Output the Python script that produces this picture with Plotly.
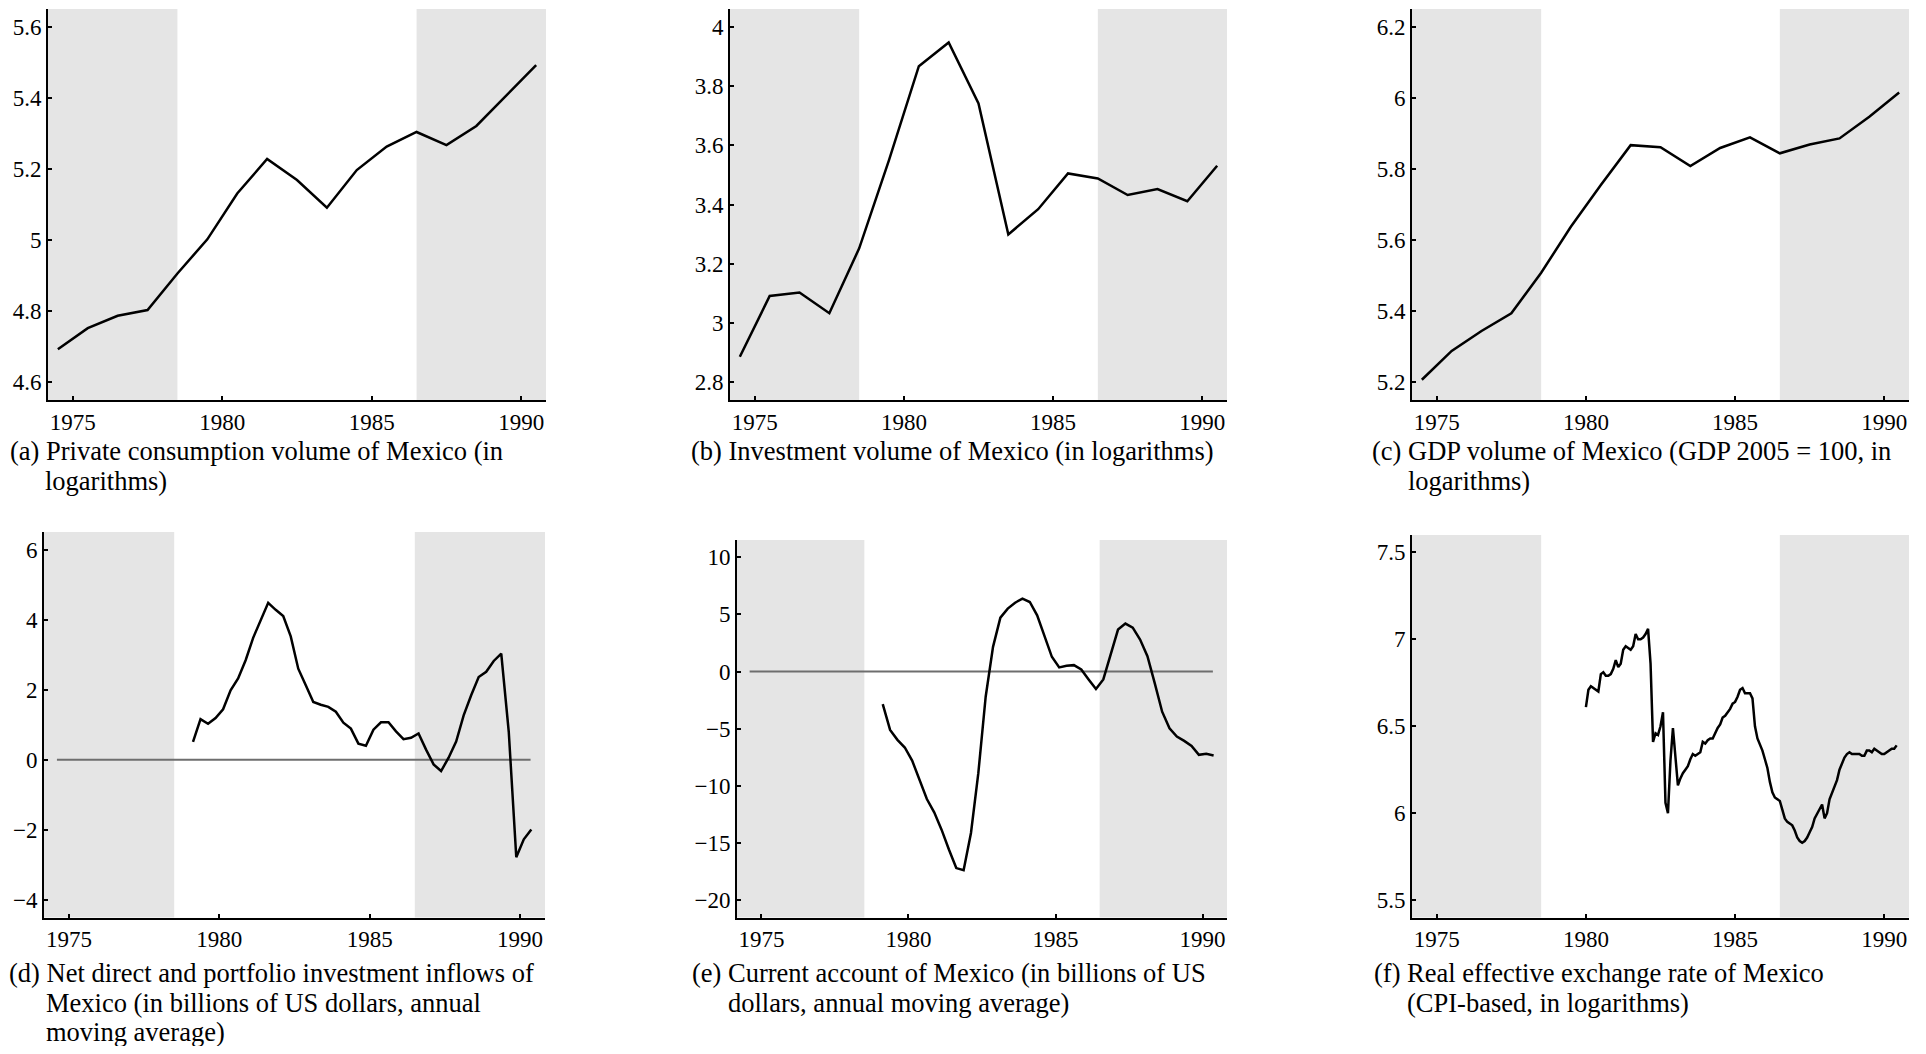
import plotly.graph_objects as go

# ---------------- data ----------------
annual_years = list(range(1974, 1991))            # plotted at mid-year
quarter_start, quarter_end = (1979, 1), (1990, 2)  # quarterly series
month_start, month_end = (1980, 1), (1990, 6)      # monthly series

consumption = [4.693, 4.752, 4.787, 4.803, 4.906, 5.002, 5.131, 5.228, 5.169,
               5.091, 5.197, 5.263, 5.304, 5.267, 5.321, 5.406, 5.492]
investment = [2.886, 3.091, 3.103, 3.033, 3.252, 3.550, 3.867, 3.947, 3.741,
              3.299, 3.384, 3.505, 3.488, 3.432, 3.452, 3.411, 3.531]
gdp = [5.207, 5.288, 5.344, 5.394, 5.508, 5.638, 5.755, 5.867, 5.861,
       5.808, 5.859, 5.889, 5.844, 5.869, 5.886, 5.947, 6.015]

inflows = [0.51, 1.16, 1.03, 1.19, 1.44, 1.98, 2.32, 2.84, 3.48, 3.98,
           4.48, 4.28, 4.10, 3.52, 2.60, 2.13, 1.65, 1.57, 1.51, 1.37,
           1.06, 0.89, 0.46, 0.40, 0.86, 1.07, 1.07, 0.81, 0.59, 0.63,
           0.75, 0.29, -0.13, -0.32, 0.06, 0.52, 1.27, 1.84, 2.36, 2.51,
           2.82, 3.03, 0.80, -2.78, -2.27, -1.99]
current_account = [-2.84, -5.10, -5.97, -6.64, -7.78, -9.40, -11.14, -12.31, -13.82, -15.56,
                   -17.18, -17.36, -14.11, -8.88, -2.20, 2.16, 4.71, 5.50, 6.02, 6.37,
                   6.08, 4.92, 3.17, 1.29, 0.36, 0.50, 0.56, 0.18, -0.69, -1.53,
                   -0.69, 1.58, 3.67, 4.19, 3.84, 2.80, 1.34, -1.04, -3.51, -4.96,
                   -5.68, -6.06, -6.50, -7.28, -7.19, -7.34]
reer = [6.61, 6.71, 6.73, 6.72, 6.71, 6.70, 6.80, 6.81, 6.79, 6.79, 6.80, 6.83,
        6.88, 6.84, 6.86, 6.94, 6.96, 6.95, 6.94, 6.96, 7.03, 7.00, 7.00, 7.01,
        7.03, 7.06, 6.86, 6.41, 6.46, 6.45, 6.50, 6.58, 6.06, 6.00, 6.30, 6.49,
        6.30, 6.16, 6.20, 6.23, 6.25, 6.27, 6.31, 6.34, 6.33, 6.34, 6.35, 6.41,
        6.40, 6.42, 6.43, 6.43, 6.46, 6.49, 6.51, 6.55, 6.56, 6.58, 6.60, 6.63,
        6.64, 6.67, 6.71, 6.72, 6.69, 6.69, 6.69, 6.66, 6.50, 6.43, 6.40, 6.36,
        6.31, 6.26, 6.18, 6.12, 6.09, 6.08, 6.07, 6.02, 5.97, 5.95, 5.94, 5.93,
        5.90, 5.86, 5.84, 5.83, 5.84, 5.86, 5.89, 5.92, 5.97, 6.00, 6.03, 6.05,
        5.97, 6.00, 6.08, 6.12, 6.15, 6.19, 6.25, 6.29, 6.32, 6.34, 6.35, 6.34,
        6.34, 6.34, 6.34, 6.33, 6.33, 6.36, 6.36, 6.35, 6.37, 6.36, 6.35, 6.34,
        6.34, 6.35, 6.36, 6.37, 6.37, 6.39]

zero_line_x = [1974.6, 1990.35]
zero_line_y = [0, 0]

shade_periods = [(1974.17, 1978.5), (1986.5, 1990.83)]
x_range = [1974.17, 1990.83]
x_ticks = [1975, 1980, 1985, 1990]

ticks_a = [4.6, 4.8, 5.0, 5.2, 5.4, 5.6]
labels_a = ["4.6", "4.8", "5", "5.2", "5.4", "5.6"]
ticks_b = [2.8, 3.0, 3.2, 3.4, 3.6, 3.8, 4.0]
labels_b = ["2.8", "3", "3.2", "3.4", "3.6", "3.8", "4"]
ticks_c = [5.2, 5.4, 5.6, 5.8, 6.0, 6.2]
labels_c = ["5.2", "5.4", "5.6", "5.8", "6", "6.2"]
ticks_d = [-4, -2, 0, 2, 4, 6]
labels_d = ["\u22124", "\u22122", "0", "2", "4", "6"]
ticks_e = [-20, -15, -10, -5, 0, 5, 10]
labels_e = ["\u221220", "\u221215", "\u221210", "\u22125", "0", "5", "10"]
ticks_f = [5.5, 6.0, 6.5, 7.0, 7.5]
labels_f = ["5.5", "6", "6.5", "7", "7.5"]

captions = {
    "a": ["(a) Private consumption volume of Mexico (in", "logarithms)"],
    "b": ["(b) Investment volume of Mexico (in logarithms)"],
    "c": ["(c) GDP volume of Mexico (GDP 2005 = 100, in", "logarithms)"],
    "d": ["(d) Net direct and portfolio investment inflows of",
          "Mexico (in billions of US dollars, annual", "moving average)"],
    "e": ["(e) Current account of Mexico (in billions of US",
          "dollars, annual moving average)"],
    "f": ["(f) Real effective exchange rate of Mexico",
          "(CPI-based, in logarithms)"],
}

# ---------------- derived x positions ----------------
annual_x = [y + 0.5 for y in annual_years]
quarter_x = []
y, q = quarter_start
while (y, q) <= quarter_end:
    quarter_x.append(y + (q - 1) * 0.25 + 0.125)
    q += 1
    if q > 4:
        q, y = 1, y + 1
month_x = []
y, m = month_start
while (y, m) <= month_end:
    month_x.append(y + (m - 1) / 12)
    m += 1
    if m > 12:
        m, y = 1, y + 1

# ---------------- layout geometry (pixels) ----------------
W, H = 1910, 1038
OFF = 8
def fx(X):
    return (X - OFF) / W
def fy(Y):
    return 1 - (Y - OFF) / H

FONT = "Liberation Serif"
TICK_SIZE = 23
CAP_SIZE = 26.5
panels = [
    dict(key="a", x=annual_x, y=consumption, dom=(48, 546, 9, 400), yr=[4.55, 5.65],
         tv=ticks_a, tt=labels_a, cx=9, ind=35, base=460, zero=False),
    dict(key="b", x=annual_x, y=investment, dom=(730, 1227, 9, 400), yr=[2.74, 4.06],
         tv=ticks_b, tt=labels_b, cx=690, ind=35, base=460, zero=False),
    dict(key="c", x=annual_x, y=gdp, dom=(1412, 1909, 9, 400), yr=[5.15, 6.25],
         tv=ticks_c, tt=labels_c, cx=1371, ind=36, base=460, zero=False),
    dict(key="d", x=quarter_x, y=inflows, dom=(44, 545, 532, 917.5), yr=[-4.5, 6.5],
         tv=ticks_d, tt=labels_d, cx=8, ind=37, base=982, zero=True),
    dict(key="e", x=quarter_x, y=current_account, dom=(737, 1227, 540, 917.5), yr=[-21.5, 11.5],
         tv=ticks_e, tt=labels_e, cx=691, ind=36, base=982, zero=True),
    dict(key="f", x=month_x, y=reer, dom=(1412, 1909, 535, 917.5), yr=[5.4, 7.6],
         tv=ticks_f, tt=labels_f, cx=1373, ind=33, base=982, zero=False),
]

fig = go.Figure()
layout = dict(
    width=W, height=H, margin=dict(l=0, r=0, t=0, b=0),
    paper_bgcolor="white", plot_bgcolor="white", showlegend=False,
    font=dict(family=FONT, color="black", size=TICK_SIZE),
)
shapes, annotations = [], []
LINE_H = 29.5

for i, p in enumerate(panels, start=1):
    xa = "x" if i == 1 else f"x{i}"
    ya = "y" if i == 1 else f"y{i}"
    x0, x1, ytop, ybot = p["dom"]
    layout[f"xaxis{'' if i == 1 else i}"] = dict(
        domain=[fx(x0), fx(x1)], anchor=ya, range=x_range,
        tickvals=x_ticks, ticktext=[str(t) for t in x_ticks],
        ticks="inside", ticklen=4, tickwidth=1.5, tickcolor="black",
        showline=True, linecolor="black", linewidth=2,
        showgrid=False, zeroline=False,
        tickfont=dict(family=FONT, size=TICK_SIZE, color="black"),
    )
    layout[f"yaxis{'' if i == 1 else i}"] = dict(
        domain=[fy(ybot), fy(ytop)], anchor=xa, range=p["yr"],
        tickvals=p["tv"], ticktext=p["tt"],
        ticks="inside", ticklen=4, tickwidth=1.5, tickcolor="black",
        showline=True, linecolor="black", linewidth=2,
        showgrid=False, zeroline=False,
        tickfont=dict(family=FONT, size=TICK_SIZE, color="black"),
    )
    for s0, s1 in shade_periods:
        shapes.append(dict(type="rect", xref=xa, yref=f"{ya} domain",
                           x0=s0, x1=s1, y0=0, y1=1, layer="below",
                           fillcolor="rgb(229,229,229)", line=dict(width=0)))
    if p["zero"]:
        fig.add_trace(go.Scatter(x=zero_line_x, y=zero_line_y, mode="lines",
                                 line=dict(color="rgb(110,110,110)", width=2),
                                 xaxis=xa, yaxis=ya, hoverinfo="skip"))
    fig.add_trace(go.Scatter(x=p["x"], y=p["y"], mode="lines",
                             line=dict(color="black", width=2.5),
                             xaxis=xa, yaxis=ya))
    for j, line in enumerate(captions[p["key"]]):
        xpos = p["cx"] if j == 0 else p["cx"] + p["ind"]
        base = p["base"] + j * LINE_H
        annotations.append(dict(
            text=line, xref="paper", yref="paper",
            x=fx(xpos), y=fy(base - 9), xanchor="left", yanchor="middle",
            showarrow=False, font=dict(family=FONT, size=CAP_SIZE, color="black"),
            borderpad=0,
        ))

layout["shapes"] = shapes
layout["annotations"] = annotations
fig.update_layout(**layout)
fig.write_html("out.html")
